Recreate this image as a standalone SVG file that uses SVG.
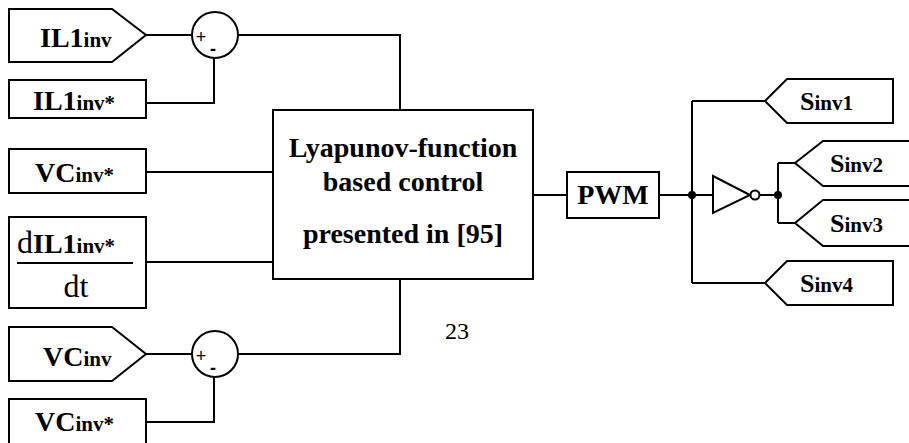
<svg xmlns="http://www.w3.org/2000/svg" width="909" height="443" viewBox="0 0 909 443">
<style>
.s{fill:#fff;stroke:#000;stroke-width:2}
.w{fill:none;stroke:#000;stroke-width:2}
.t{font-family:"Liberation Serif","Times New Roman",serif;font-weight:bold;fill:#000}
.big{font-size:28px}
.sub{font-size:21px}
.r{font-family:"Liberation Serif","Times New Roman",serif;font-weight:normal;fill:#000}
.pm{font-family:"Liberation Sans",Arial,sans-serif;font-size:18px;fill:#000}
</style>
<rect width="909" height="443" fill="#fff"/>
<g id="connectors">
<path class="w" d="M146,35H192M238,35H400V110"/>
<path class="w" d="M146,103H214V58"/>
<path class="w" d="M146,172H273"/>
<path class="w" d="M146,262H273"/>
<path class="w" d="M146,354H192M238,354H400V279"/>
<path class="w" d="M146,422H214V377"/>
<path class="w" d="M533,195H567"/>
<path class="w" d="M659,195H713"/>
<path class="w" d="M692,101V283M692,101H765M692,283H765"/>
<path class="w" d="M760,195H778M778,163V223M778,163H795M778,223H795"/>
<circle cx="692" cy="195" r="4" fill="#000"/>
<circle cx="778" cy="195" r="4" fill="#000"/>
</g>
<g id="IL1inv">
<polygon class="s" points="9,9 112,9 146,35 112,62 9,62"/>
<text class="t" x="40" y="47"><tspan class="big">IL1</tspan><tspan class="sub">inv</tspan></text>
</g>
<g id="sum1">
<circle class="s" cx="215" cy="35" r="23"/>
<text class="pm" x="201" y="43" text-anchor="middle">+</text>
<text class="pm" x="213" y="55" text-anchor="middle" font-weight="bold">-</text>
</g>
<g id="IL1invRef">
<rect class="s" x="9" y="80" width="137" height="38"/>
<text class="t" x="33" y="110"><tspan class="big">IL1</tspan><tspan class="sub">inv*</tspan></text>
</g>
<g id="VCinvRef">
<rect class="s" x="9" y="149" width="137" height="44"/>
<text class="t" x="35" y="182"><tspan class="big">VC</tspan><tspan class="sub">inv*</tspan></text>
</g>
<g id="dIL1">
<rect class="s" x="9" y="217" width="137" height="91"/>
<text x="17" y="253"><tspan class="r" font-size="32">d</tspan><tspan class="t big">IL1</tspan><tspan class="t sub">inv*</tspan></text>
<path class="w" d="M17,263H133"/>
<text class="r" x="76" y="297" font-size="32" text-anchor="middle">dt</text>
</g>
<g id="VCinv">
<polygon class="s" points="9,327 112,327 146,354 112,381 9,381"/>
<text class="t" x="43" y="366"><tspan class="big">VC</tspan><tspan class="sub">inv</tspan></text>
</g>
<g id="sum2">
<circle class="s" cx="215" cy="354" r="23"/>
<text class="pm" x="201" y="362" text-anchor="middle">+</text>
<text class="pm" x="213" y="374" text-anchor="middle" font-weight="bold">-</text>
</g>
<g id="VCinvRef2">
<rect class="s" x="9" y="399" width="137" height="50"/>
<text class="t" x="35" y="431"><tspan class="big">VC</tspan><tspan class="sub">inv*</tspan></text>
</g>
<g id="control">
<rect class="s" x="273" y="110" width="260" height="169"/>
<text class="t big" x="403" y="157" text-anchor="middle">Lyapunov-function</text>
<text class="t big" x="403" y="191" text-anchor="middle">based control</text>
<text class="t big" x="403" y="243" text-anchor="middle">presented in [95]</text>
</g>
<g id="PWM">
<rect class="s" x="567" y="172" width="92" height="46"/>
<text class="t big" x="613" y="204" text-anchor="middle">PWM</text>
</g>
<g id="inverter">
<polygon class="s" points="713,176 713,213 750,195"/>
<circle class="s" cx="755" cy="195" r="4.5"/>
</g>
<g id="Sinv1">
<polygon class="s" points="765,101 787,79 893,79 893,123 787,123"/>
<text class="t" x="800" y="110"><tspan font-size="26">S</tspan><tspan class="sub">inv1</tspan></text>
</g>
<g id="Sinv2">
<polygon class="s" points="795,163 823,141 915,141 915,186 823,186"/>
<text class="t" x="830" y="172"><tspan font-size="26">S</tspan><tspan class="sub">inv2</tspan></text>
</g>
<g id="Sinv3">
<polygon class="s" points="795,223 823,200 915,200 915,246 823,246"/>
<text class="t" x="830" y="232"><tspan font-size="26">S</tspan><tspan class="sub">inv3</tspan></text>
</g>
<g id="Sinv4">
<polygon class="s" points="765,283 787,261 893,261 893,305 787,305"/>
<text class="t" x="800" y="292"><tspan font-size="26">S</tspan><tspan class="sub">inv4</tspan></text>
</g>
<text class="r" x="457" y="339" font-size="24" text-anchor="middle">23</text>
</svg>
